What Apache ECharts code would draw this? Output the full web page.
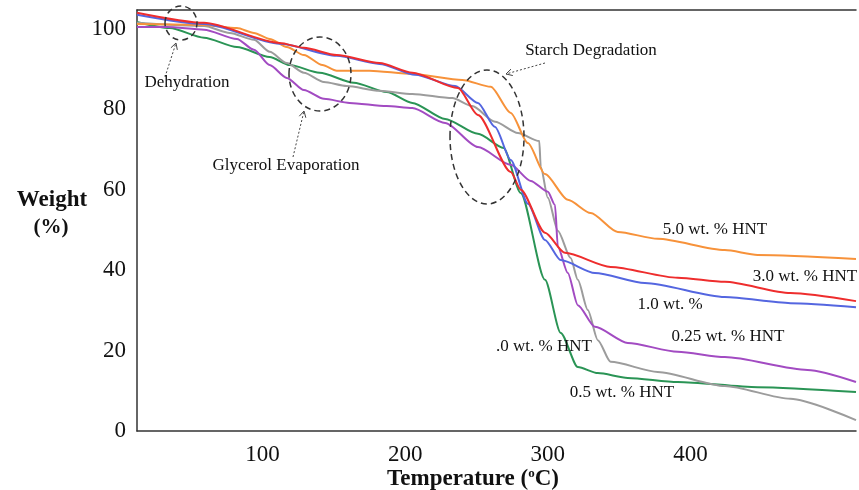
<!DOCTYPE html>
<html>
<head>
<meta charset="utf-8">
<script src="https://cdn.jsdelivr.net/npm/echarts@6/dist/echarts.min.js"></script>
<style>
  html, body { margin: 0; padding: 0; background: #fff; }
  #tga-chart { width: 859px; height: 490px; }
</style>
</head>
<body>
<div id="tga-chart"></div>
<script>
// 坐标轴刻度
var xTickLabels = [100, 200, 300, 400];
var yTickLabels = [0, 20, 40, 60, 80, 100];

// 5.0 wt.% HNT
var t50 = [12, 59, 82, 94, 105, 117, 129, 142, 152, 175, 205, 240, 260, 274, 286, 298, 314, 330, 349, 377, 424, 447, 516];
var w50 = [101.2, 101, 100.2, 99, 97.5, 95.5, 93.5, 91, 89.6, 89.6, 88.8, 87.3, 85.6, 79.1, 71.6, 63.9, 57.5, 54.2, 49.5, 47.8, 45, 43.8, 42.8];

// 3.0 wt.% HNT
var t30 = [12, 59, 112, 129, 152, 182, 205, 237, 251, 274, 281, 298, 312, 344, 391, 424, 470, 516];
var w30 = [104, 101.5, 96.5, 95.3, 93.5, 91.5, 89.1, 85.3, 78.6, 64.4, 60, 49.3, 44.3, 40.8, 38.1, 37.1, 34.3, 32.3];

// 1.0 wt.%
var t10 = [12, 59, 112, 152, 182, 207, 235, 251, 263, 274, 286, 298, 309, 333, 368, 424, 470, 516];
var w10 = [103.5, 101.2, 96.3, 93.3, 91.3, 88.6, 85.8, 81.6, 75.6, 67.4, 56.5, 47.5, 42.5, 39.3, 36.8, 33.3, 31.8, 30.8];

// 0.25 wt.% HNT
var t025 = [12, 33, 59, 82, 94, 105, 117, 129, 143, 161, 187, 205, 228, 251, 274, 288, 300, 305, 307, 314, 321, 333, 356, 391, 424, 482, 516];
var w025 = [100.5, 100.5, 99.8, 97.5, 94.8, 91, 87.8, 84.8, 82.6, 81.6, 80.8, 80.3, 76.6, 70.6, 66.2, 62.2, 59.5, 56.2, 45.8, 39.3, 31.3, 25.9, 21.9, 19.7, 18.4, 15.2, 12.2];

// 0 wt.% HNT
var t00 = [12, 35, 59, 82, 105, 119, 140, 164, 187, 205, 228, 251, 269, 281, 298, 309, 321, 335, 356, 391, 447, 516];
var w00 = [101.7, 100.2, 97.8, 95.5, 93, 91, 89.1, 86.6, 84.3, 81.6, 77.6, 73.9, 70.4, 59.2, 37.6, 24.4, 15.9, 14.4, 13.2, 12.2, 10.9, 9.7];

// 0.5 wt.% HNT
var t05 = [12, 59, 77, 94, 105, 117, 129, 143, 159, 182, 205, 233, 247, 263, 279, 294, 295, 300, 307, 316, 321, 328, 335, 344, 377, 424, 470, 516];
var w05 = [101.5, 100.7, 99, 97.3, 94.3, 91.5, 89.1, 86.8, 85.8, 84.6, 83.8, 82.8, 80.8, 76.9, 74.1, 72.1, 65.7, 58, 49.8, 43, 37.6, 30.1, 22.6, 17.2, 14.7, 11.2, 8, 2.7];

function pairs(t, w) {
    var out = [];
    for (var i = 0; i < t.length; i++) {
        out.push([t[i], w[i]]);
    }
    return out;
}

var serif = 'Liberation Serif';

function line(name, color, t, w) {
    return {
        name: name,
        type: 'line',
        showSymbol: false,
        smooth: 0.25,
        smoothMonotone: 'x',
        lineStyle: { color: color, width: 2 },
        data: pairs(t, w)
    };
}

// 虚线箭头
function arrow(x1, y1, x2, y2) {
    var a = Math.atan2(y2 - y1, x2 - x1);
    var L = 7;
    return [{
        type: 'polyline',
        shape: { points: [[x1, y1], [x2, y2]] },
        style: { stroke: '#444', lineWidth: 1, lineDash: [2, 2] }
    }, {
        type: 'polyline',
        shape: { points: [
            [x2 - L * Math.cos(a - 0.5), y2 - L * Math.sin(a - 0.5)],
            [x2, y2],
            [x2 - L * Math.cos(a + 0.5), y2 - L * Math.sin(a + 0.5)]
        ] },
        style: { stroke: '#444', lineWidth: 1, fill: 'none' }
    }];
}

function ellipse(cx, cy, rx, ry) {
    return {
        type: 'ellipse',
        shape: { cx: cx, cy: cy, rx: rx, ry: ry },
        style: { fill: 'none', stroke: '#333', lineWidth: 1.5, lineDash: [6, 4] },
        z: 10
    };
}

function txt(x, y, s, size, bold, align) {
    return {
        type: 'text',
        x: x, y: y,
        style: {
            text: s,
            font: (bold ? 'bold ' : '') + size + 'px "' + serif + '"',
            fill: '#111',
            align: align || 'center',
            verticalAlign: 'middle'
        },
        z: 10
    };
}

var tgaChart = echarts.init(document.getElementById('tga-chart'), null, {
    width: 859,
    height: 490
});

var graphics = [
    ellipse(181, 23, 16, 17),
    ellipse(320, 74, 31, 37),
    ellipse(487, 137, 37, 67),
    txt(187, 83, 'Dehydration', 17),
    txt(286, 166, 'Glycerol Evaporation', 17),
    txt(591, 51, 'Starch Degradation', 17),
    txt(715, 230, '5.0 wt. % HNT', 17),
    txt(805, 277, '3.0 wt. % HNT', 17),
    txt(670, 305, '1.0 wt. %', 17),
    txt(728, 337, '0.25 wt. % HNT', 17),
    txt(544, 347, '.0 wt. % HNT', 17),
    txt(622, 393, '0.5 wt. % HNT', 17),
    txt(52, 200, 'Weight', 23, true),
    txt(51, 228, '(%)', 21, true),
    {
        type: 'text',
        x: 473, y: 479,
        style: {
            text: 'Temperature ({sup|o}C)',
            font: 'bold 23px "' + serif + '"',
            fill: '#111',
            align: 'center',
            verticalAlign: 'middle',
            rich: {
                sup: { font: 'bold 13px "' + serif + '"', verticalAlign: 'top', padding: [0, 0, 10, 0] }
            }
        }
    }
];
graphics = graphics.concat(arrow(165, 77, 176, 43));
graphics = graphics.concat(arrow(293, 157, 304, 111));
graphics = graphics.concat(arrow(545, 63, 506, 74));

var option = {
    animation: false,
    backgroundColor: '#fff',
    grid: { left: 137, right: 0, top: 10, bottom: 59, containLabel: false },
    xAxis: [{
        type: 'value',
        min: 12,
        max: 516,
        axisLine: { show: true, lineStyle: { color: '#333', width: 1.5 } },
        axisTick: { show: false },
        splitLine: { show: false },
        axisLabel: {
            margin: 12,
            color: '#111',
            fontFamily: serif,
            fontSize: 23,
            formatter: function (v) {
                return xTickLabels.indexOf(v) >= 0 ? String(v) : '';
            }
        }
    }, {
        type: 'value',
        position: 'top',
        min: 12,
        max: 516,
        axisLine: { show: true, lineStyle: { color: '#333', width: 1.5 } },
        axisTick: { show: false },
        axisLabel: { show: false },
        splitLine: { show: false }
    }],
    yAxis: {
        type: 'value',
        min: 0,
        max: 104.7,
        interval: 20,
        axisLine: { show: true, lineStyle: { color: '#333', width: 1.5 } },
        axisTick: { show: false },
        splitLine: { show: false },
        axisLabel: {
            margin: 11,
            color: '#111',
            fontFamily: serif,
            fontSize: 23,
            formatter: function (v) {
                return yTickLabels.indexOf(v) >= 0 ? String(v) : '';
            }
        }
    },
    series: [
        line('0 wt.% HNT', '#2A9455', t00, w00),
        line('0.5 wt.% HNT', '#9C9C9C', t05, w05),
        line('0.25 wt.% HNT', '#A24BC2', t025, w025),
        line('5.0 wt.% HNT', '#F7923A', t50, w50),
        line('1.0 wt.%', '#5466E0', t10, w10),
        line('3.0 wt.% HNT', '#EE2D2D', t30, w30)
    ],
    graphic: graphics
};

tgaChart.setOption(option);
</script>
</body>
</html>
